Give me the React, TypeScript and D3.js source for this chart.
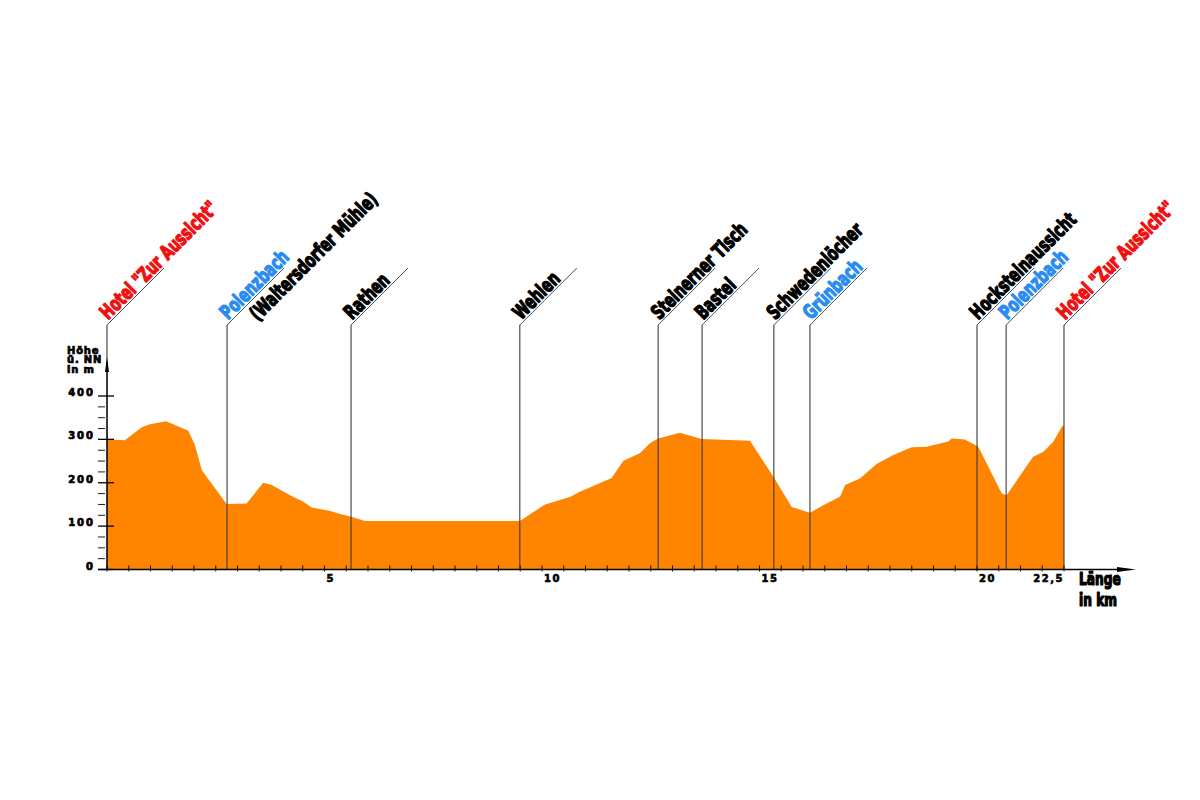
import React from "react";
import * as d3 from "d3";

// Elevation profile (km, metres above sea level)
const profileKm = [0, 0.03, 0.41, 0.8, 0.99, 1.36, 1.87, 2.02, 2.18, 2.29, 2.75, 3.21, 3.59, 3.79, 4.21, 4.51, 4.71, 5.13, 5.36, 5.6, 5.93, 9.49, 10.07, 10.64, 10.87, 11.6, 11.87, 12.25, 12.48, 12.67, 13.17, 13.67, 14.78, 15.32, 15.74, 16.16, 16.54, 16.85, 16.97, 17.31, 17.69, 18.08, 18.5, 18.84, 19.34, 19.42, 19.72, 20.03, 20.57, 20.68, 21.29, 21.52, 21.75, 21.95, 22.0];
const profileElev = [329, 300, 298, 328, 335, 342, 320, 287, 229, 214, 151, 152, 200, 195, 171, 156, 143, 135, 128, 122, 112, 112, 150, 167, 179, 211, 251, 268, 291, 302, 315, 301, 297, 214, 144, 131, 152, 168, 195, 210, 243, 264, 282, 283, 295, 302, 300, 283, 175, 171, 260, 271, 294, 329, 333];

// Waypoints
const wpNames = ['Hotel "Zur Aussicht"', "Polenzbach", "Rathen", "Wehlen", "Steinerner Tisch", "Bastei", "Schwedenlöcher", "Grünbach", "Hocksteinaussicht", "Polenzbach", 'Hotel "Zur Aussicht"'];
const wpSub = ["", "(Waltersdorfer Mühle)", "", "", "", "", "", "", "", "", ""];
const wpKm = [0, 2.76, 5.61, 9.49, 12.67, 13.68, 15.33, 16.16, 20.0, 20.67, 22.0];
const wpKind = ["hotel", "water", "place", "place", "place", "place", "place", "water", "place", "water", "hotel"];

// Axis ticks
const yMajor = [0, 100, 200, 300, 400];
const xLabelKm = [5, 10, 15, 20];
const xEndLabel = "22,5";
const yTitle = ["Höhe", "ü. NN", "in m"];
const xTitle = ["Länge", "in km"];

const kindColor: Record<string, string> = { hotel: "#f01010", water: "#2a8cf0", place: "#000000" };

const labelFont = "'DejaVu Sans Condensed', 'Liberation Sans Narrow', sans-serif";
const numFont = "'DejaVu Sans', Verdana, sans-serif";
const SX = 0.76;

export default function App() {
  const x = d3.scaleLinear().domain([0, 22]).range([107, 1064]);
  const y = d3.scaleLinear().domain([0, 400]).range([569.5, 396]);
  const data = profileKm.map((k, i) => [k, profileElev[i]] as [number, number]);
  const area = d3
    .area<[number, number]>()
    .x((d) => x(d[0]))
    .y0(y(0))
    .y1((d) => y(d[1]))
    .curve(d3.curveLinear);

  const yTicks = d3.range(0, 401, 25);
  const xTicks = d3.range(0, 22.01, 0.5);
  const kneeY = 325;
  const diag = 57;

  return (
    <svg width={1200} height={800} style={{ position: "absolute", left: 0, top: 0, background: "#fff" }}>
      <path d={area(data) || ""} fill="#ff8400" />

      {/* waypoint lines */}
      {wpKm.map((k, i) => (
        <g key={"wl" + i}>
          <line x1={x(k)} x2={x(k)} y1={y(0)} y2={kneeY} stroke="#3a3a3a" strokeWidth={1.1} />
          <line x1={x(k)} x2={x(k) + diag} y1={kneeY} y2={kneeY - diag} stroke="#3a3a3a" strokeWidth={0.9} />
        </g>
      ))}

      {/* waypoint labels */}
      {wpKm.map((k, i) => (
        <g key={"wt" + i} transform={`translate(${x(k)},${kneeY}) rotate(-45)`}>
          <text
            transform={`scale(${SX},1)`}
            x={4 / SX}
            y={-2.5}
            fontFamily={labelFont}
            fontWeight="bold"
            fontSize={20}
            fill={kindColor[wpKind[i]]}
            stroke={kindColor[wpKind[i]]}
            strokeWidth={1.3}
            strokeLinejoin="round"
          >
            {wpNames[i]}
          </text>
          {wpSub[i] && (
            <text
              transform={`scale(${SX},1)`}
              x={24 / SX}
              y={19.5}
              fontFamily={labelFont}
              fontWeight="bold"
              fontSize={20}
              fill="#000"
              stroke="#000"
              strokeWidth={1.3}
              strokeLinejoin="round"
            >
              {wpSub[i]}
            </text>
          )}
        </g>
      ))}

      {/* y axis */}
      <line x1={x(0)} x2={x(0)} y1={y(0)} y2={362} stroke="#000" strokeWidth={1.2} />
      <path d={`M${x(0)},357 L${x(0) - 2},372 L${x(0) + 2},372 Z`} fill="#000" />
      {yTicks.map((t) => {
        const major = t % 100 === 0;
        return (
          <line
            key={"yt" + t}
            x1={98}
            x2={major ? 114 : 105}
            y1={y(t)}
            y2={y(t)}
            stroke="#000"
            strokeWidth={major ? 1.3 : 0.9}
          />
        );
      })}
      {yMajor.map((t) => (
        <text
          key={"yl" + t}
          x={95}
          y={y(t)}
          textAnchor="end"
          fontFamily={numFont}
          fontWeight="bold"
          fontSize={10}
          letterSpacing={2}
          stroke="#000"
          strokeWidth={0.7}
        >
          {t}
        </text>
      ))}
      <text fontFamily={numFont} fontWeight="bold" fontSize={10} letterSpacing={0.8} stroke="#000" strokeWidth={0.7}>
        {yTitle.map((s, i) => (
          <tspan key={"ytt" + i} x={67} y={354 + i * 9.3}>
            {s}
          </tspan>
        ))}
      </text>

      {/* x axis */}
      <line x1={98} x2={1120} y1={y(0)} y2={y(0)} stroke="#000" strokeWidth={1.3} />
      <path d={`M1136,${y(0)} L1117,${y(0) - 2.5} L1117,${y(0) + 2.5} Z`} fill="#000" />
      {xTicks.map((t) => (
        <line key={"xt" + t} x1={x(t)} x2={x(t)} y1={y(0) - 4} y2={y(0) + 2} stroke="#000" strokeWidth={0.9} />
      ))}
      {xLabelKm.map((t) => (
        <text
          key={"xl" + t}
          x={x(t) + 2}
          y={582}
          fontFamily={numFont}
          fontWeight="bold"
          fontSize={10}
          letterSpacing={1.5}
          stroke="#000"
          strokeWidth={0.6}
        >
          {t}
        </text>
      ))}
      <text
        x={x(22)}
        y={582}
        textAnchor="end"
        fontFamily={numFont}
        fontWeight="bold"
        fontSize={10}
        letterSpacing={1.5}
        stroke="#000"
        strokeWidth={0.6}
      >
        {xEndLabel}
      </text>
      <text
        transform={`scale(0.8,1)`}
        fontFamily={labelFont}
        fontWeight="bold"
        fontSize={17}
        stroke="#000"
        strokeWidth={1.2}
        strokeLinejoin="round"
      >
        {xTitle.map((s, i) => (
          <tspan key={"xtt" + i} x={1079 / 0.8} y={585.5 + i * 20.5}>
            {s}
          </tspan>
        ))}
      </text>
    </svg>
  );
}
